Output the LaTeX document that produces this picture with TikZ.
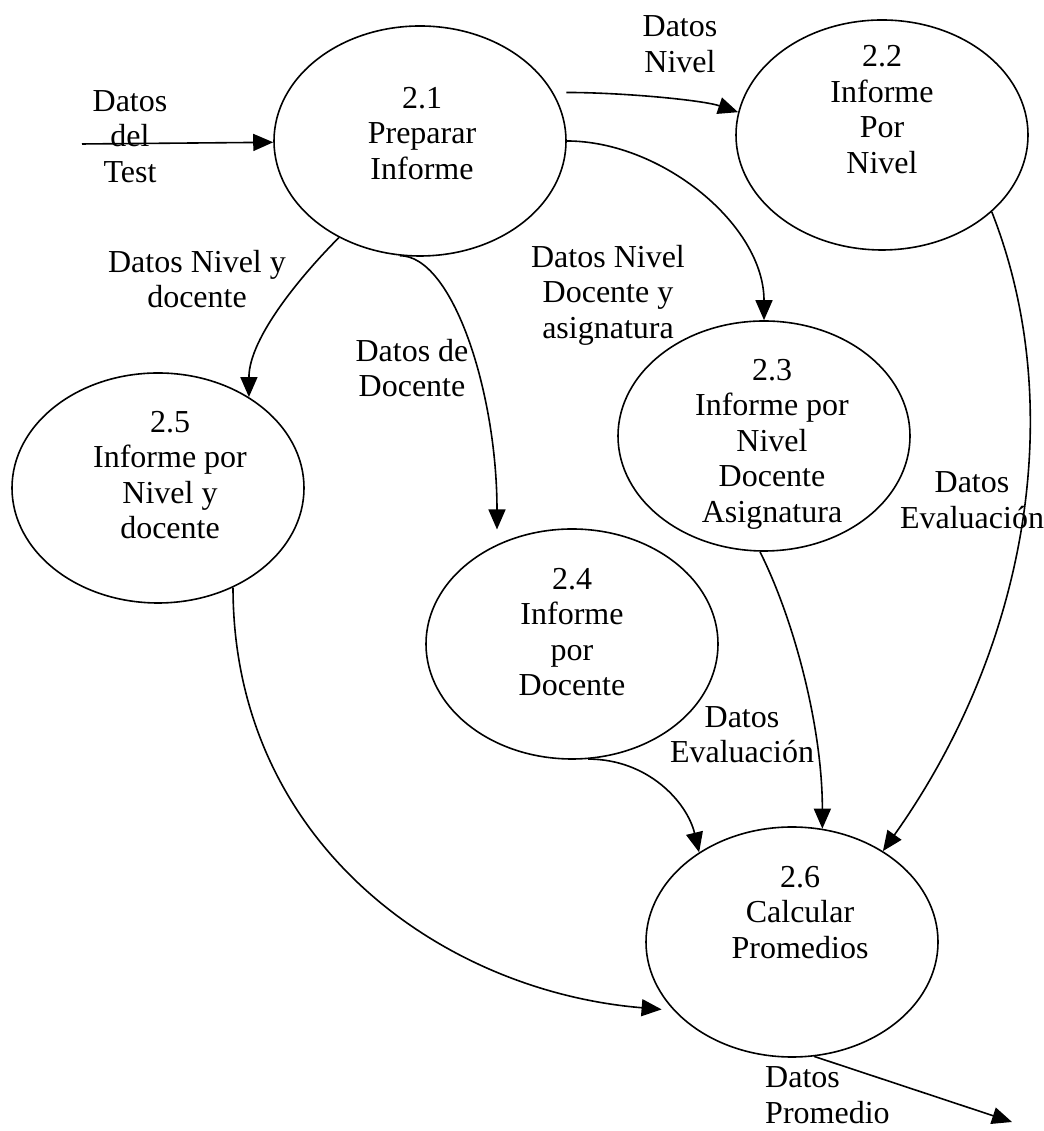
\documentclass[tikz,border=0pt]{standalone}
\usepackage{fontspec}
\setmainfont{Liberation Serif}
\usetikzlibrary{arrows.meta,shapes.geometric}
\begin{document}
\begin{tikzpicture}[x=1pt,y=1pt,
  proc/.style={draw, line width=1.6pt, ellipse, minimum width=292pt, minimum height=230pt, inner sep=0pt},
  ptext/.style={align=center, inner sep=0pt, font=\fontsize{32}{35.5}\selectfont},
  lbl/.style={align=center, inner sep=0pt, font=\fontsize{32}{35.5}\selectfont},
  flow/.style={line width=1.6pt, -{Triangle[length=20pt,width=17pt]}},
]
\useasboundingbox (0,0) rectangle (1043,1131);
\fill[white] (0,0) rectangle (1043,1131);

% processes
\node[proc] (p21) at (420,990) {};
\node[proc] (p22) at (882,996) {};
\node[proc] (p23) at (764,695) {};
\node[proc] (p24) at (572,487) {};
\node[proc] (p25) at (158,643) {};
\node[proc] (p26) at (792,189) {};

\node[ptext] (t21) at (422,997.5) {2.1\\Preparar\\Informe};
\node[ptext] (t22) at (882,1021.5) {2.2\\Informe\\Por\\Nivel};
\node[ptext] (t23) at (772,687) {2.3\\Informe por\\Nivel\\Docente\\Asignatura};
\node[ptext] (t24) at (572,499) {2.4\\Informe\\por\\Docente};
\node[ptext] (t25) at (170,656) {2.5\\Informe por\\Nivel y\\docente};
\node[ptext] (t26) at (800,218.5) {2.6\\Calcular\\Promedios};

% data flow labels
\node[lbl] (l1) at (130,994.5) {Datos\\del\\Test};
\node[lbl] (l2) at (680,1087) {Datos\\Nivel};
\node[lbl] (l3) at (608,836) {Datos Nivel\\Docente y\\asignatura};
\node[lbl] (l4) at (197,852) {Datos Nivel y\\docente};
\node[lbl] (l5) at (412,763) {Datos de\\Docente};
\node[lbl] (l6) at (972,631) {Datos\\Evaluación};
\node[lbl] (l7) at (742,396.5) {Datos\\Evaluación};
\node[lbl, align=left, anchor=west] (l8) at (765,36) {Datos\\Promedio};

% free ends
\coordinate (src) at (82,987);
\coordinate (sink) at (1012,9);

% flows
\draw[flow] (src) -- (p21);
\draw[flow, shorten <=13pt] (p21.20) .. controls +(70,0) and +(-35,12) .. (p22.171);
\draw[flow] (p21.east) .. controls +(95,0) and +(0,95) .. (p23.north);
\draw[flow] (p21.230) .. controls +(-35,-35) and +(0,60) .. (p25.45);
\draw[flow, shorten >=15pt] (p21.260) .. controls +(53,0) and +(0,152) .. (p24.127);
\draw[flow, shorten >=12pt] (p25.307) .. controls (233,290) and (440,140) .. (p26.210);
\draw[flow] (p24.278) .. controls +(60,0) and +(-12,50) .. (p26.136);
\draw[flow] (p23.268) .. controls +(35,-70) and +(0,100) .. (p26.75);
\draw[flow] (p22.325) .. controls (1070,720) and (1025,480) .. (p26.45);
\draw[flow] (p26.281) -- (sink);
\end{tikzpicture}
\end{document}
